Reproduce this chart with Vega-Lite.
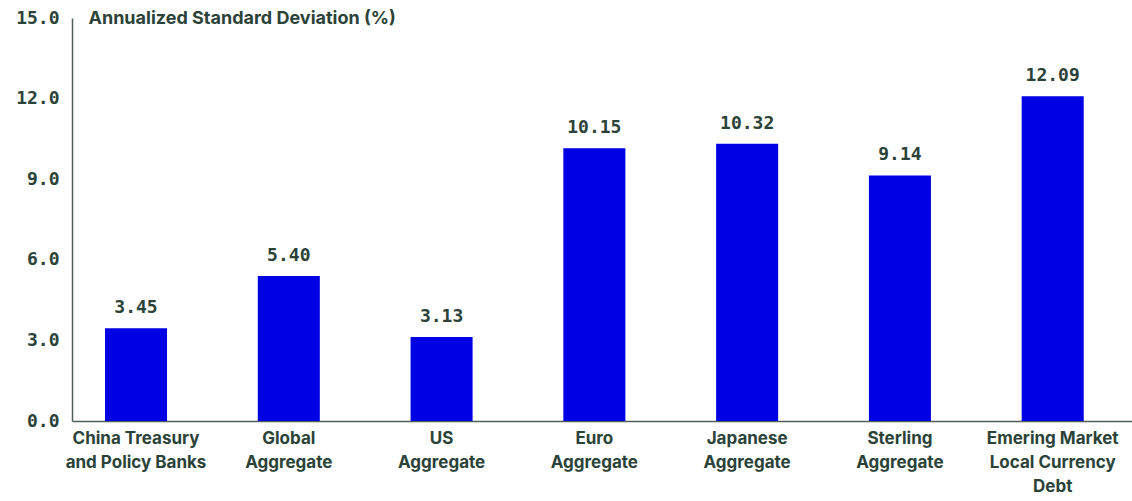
{
  "$schema": "https://vega.github.io/schema/vega-lite/v6.json",
  "autosize": "none",
  "width": 1060,
  "height": 403,
  "padding": {"left": 72, "top": 18, "right": 0, "bottom": 80},
  "background": "white",
  "config": {"view": {"stroke": null}},
  "data": {
    "values": [
      {"category": "China Treasury and Policy Banks", "value": 3.45},
      {"category": "Global Aggregate", "value": 5.40},
      {"category": "US Aggregate", "value": 3.13},
      {"category": "Euro Aggregate", "value": 10.15},
      {"category": "Japanese Aggregate", "value": 10.32},
      {"category": "Sterling Aggregate", "value": 9.14},
      {"category": "Emering Market Local Currency Debt", "value": 12.09}
    ]
  },
  "encoding": {
    "x": {
      "field": "category",
      "type": "nominal",
      "sort": null,
      "scale": {"paddingInner": 0.594, "paddingOuter": 0.266, "align": 0.406},
      "axis": {
        "title": null,
        "labelAngle": 0,
        "labelExpr": "{'China Treasury and Policy Banks': ['China Treasury','and Policy Banks'], 'Global Aggregate': ['Global','Aggregate'], 'US Aggregate': ['US','Aggregate'], 'Euro Aggregate': ['Euro','Aggregate'], 'Japanese Aggregate': ['Japanese','Aggregate'], 'Sterling Aggregate': ['Sterling','Aggregate'], 'Emering Market Local Currency Debt': ['Emering Market','Local Currency','Debt']}[datum.label]",
        "labelFont": "Inter",
        "labelFontWeight": "bold",
        "labelFontSize": 17,
        "labelColor": "#2b4238",
        "labelLineHeight": 24,
        "labelPadding": 9,
        "labelBaseline": "top",
        "ticks": false,
        "domainColor": "#4f5f57",
        "domainWidth": 1.5
      }
    },
    "y": {
      "field": "value",
      "type": "quantitative",
      "scale": {"domain": [0, 15], "nice": false},
      "axis": {
        "title": "Annualized Standard Deviation (%)",
        "titleAngle": 0,
        "titleAlign": "left",
        "titleBaseline": "middle",
        "titleX": 16,
        "titleY": 0,
        "titleFont": "Inter",
        "titleFontWeight": "bold",
        "titleFontSize": 18,
        "titleColor": "#2b4238",
        "values": [0, 3, 6, 9, 12, 15],
        "format": ".1f",
        "grid": false,
        "ticks": false,
        "labelFont": "DejaVu Sans Mono",
        "labelFontWeight": "bold",
        "labelFontSize": 18,
        "labelColor": "#2b4238",
        "labelPadding": 13,
        "domainColor": "#4f5f57",
        "domainWidth": 1.5
      }
    }
  },
  "layer": [
    {"mark": {"type": "bar", "color": "#0000e4"}},
    {
      "mark": {
        "type": "text",
        "dy": -20,
        "font": "DejaVu Sans Mono",
        "fontWeight": "bold",
        "fontSize": 18,
        "color": "#2b4238"
      },
      "encoding": {"text": {"field": "value", "type": "quantitative", "format": ".2f"}}
    }
  ]
}
